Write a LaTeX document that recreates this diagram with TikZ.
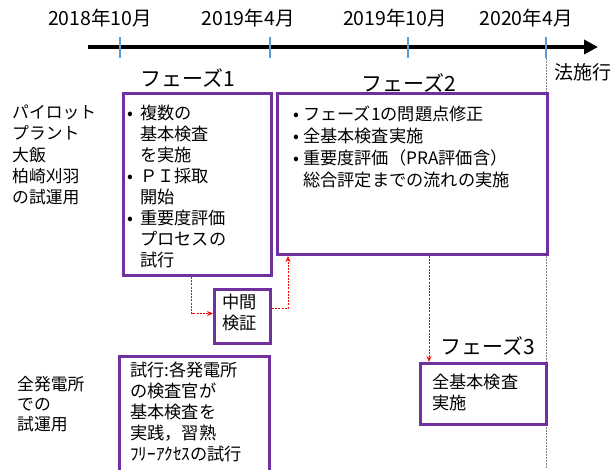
\documentclass[tikz,border=0pt]{standalone}
\usepackage{fontspec}
\setmainfont{Noto Sans CJK JP}
\usetikzlibrary{arrows.meta}
\definecolor{pur}{HTML}{7030A0}
\definecolor{tickc}{HTML}{5B9BD5}
\newcommand{\bl}[1]{\makebox[#1][l]{•}}
\tikzset{
  pbox/.style={draw=pur, line width=3pt, rectangle, inner sep=0pt, anchor=north west},
  txt/.style={anchor=north west, inner sep=0pt, align=left, font=\fontsize{17.2}{21}\selectfont},
  big/.style={inner sep=0pt, font=\fontsize{19.5}{22}\selectfont},
  phase/.style={inner sep=0pt, font=\fontsize{21}{24}\selectfont},
  redarr/.style={draw=red, line width=1pt, dash pattern=on 2pt off 1.2pt, -{Stealth[length=6pt,width=5pt]}},
  tickmark/.style={draw=tickc, line width=2pt},
}
\begin{document}
\begin{tikzpicture}[x=1pt,y=-1pt]
\useasboundingbox (0,0) rectangle (613,469);
% timeline
\coordinate (ta) at (88,47);
\coordinate (tb) at (598,47);
\draw[line width=4.5pt, -{Triangle[length=14pt,width=14pt]}] (ta) -- (tb);
\foreach \x/\n in {120/t1,270/t2,408/t3,546/t4}{
  \coordinate (\n a) at (\x,37);
  \coordinate (\n b) at (\x,58);
  \draw[tickmark] (\n a) -- (\n b);
}
\node[big] (d1) at (100,18) {2018年10月};
\node[big] (d2) at (248,18) {2019年4月};
\node[big] (d3) at (395,18) {2019年10月};
\node[big] (d4) at (526,18) {2020年4月};
% law line
\coordinate (lawb) at (546,469);
\draw[gray, line width=0.6pt, dash pattern=on 1.5pt off 1.5pt] (t4b) -- (lawb);
\node[big, font=\fontsize{19}{22}\selectfont] (law) at (583,72) {法施行};
% phase titles
\node[phase] (f1) at (188,78) {フェーズ1};
\node[phase] (f2) at (409,83) {フェーズ2};
\node[phase] (f3) at (488,346) {フェーズ3};
% boxes
\node[pbox, minimum width=148pt, minimum height=182pt] (p1) at (122,92) {};
\node[pbox, minimum width=270pt, minimum height=161pt] (p2) at (276,92) {};
\node[pbox, minimum width=56pt, minimum height=54pt] (mid) at (213,288) {};
\node[pbox, minimum width=126pt, minimum height=61pt] (p3) at (419,362) {};
\coordinate (b4a) at (119,472);
\coordinate (b4b) at (269,356);
\coordinate (b4c) at (269,472);
\draw[draw=pur, line width=3pt] (b4a) |- (b4b) -- (b4c);
% left labels
\node[txt, font=\fontsize{16.8}{21.3}\selectfont] (lab1) at (12,104.6) {パイロット\\プラント\\大飯\\柏崎刈羽\\の試運用};
\node[txt, font=\fontsize{16.8}{20}\selectfont] (lab2) at (17,376.6) {全発電所\\での\\試運用};
% box texts
\node[txt] (p1t) at (127,104.6) {\begin{tabular}{@{}l@{}l@{}}\bl{13pt}&複数の\\&基本検査\\&を実施\\\bl{13pt}&ＰＩ採取\\&開始\\\bl{13pt}&重要度評価\\&プロセスの\\&試行\end{tabular}};
\node[txt, font=\fontsize{17.2}{22}\selectfont] (p2t) at (293,104.6) {\begin{tabular}{@{}l@{}l@{}}\bl{10pt}&フェーズ1の問題点修正\\\bl{10pt}&全基本検査実施\\\bl{10pt}&重要度評価（PRA評価含）\\&総合評定までの流れの実施\end{tabular}};
\node[txt] (midt) at (222,293.6) {中間\\検証};
\node[txt] (b4t) at (130,361.6) {試行:各発電所\\の検査官が\\基本検査を\\実践，習熟\\ﾌﾘｰｱｸｾｽの試行};
\node[txt] (p3t) at (432,373.6) {全基本検査\\実施};
% connectors
\coordinate (c1) at ([xshift=-6pt]p1.south);
\draw[redarr] (c1) |- ([yshift=3pt]mid.west);
\coordinate (c2) at ([xshift=12pt]p2.south west);
\draw[redarr] ([yshift=8pt]mid.east) -| (c2);
\coordinate (c3) at ([xshift=10pt]p3.north west);
\draw[redarr] (c3 |- p2.south) -- (c3);
\end{tikzpicture}
\end{document}
